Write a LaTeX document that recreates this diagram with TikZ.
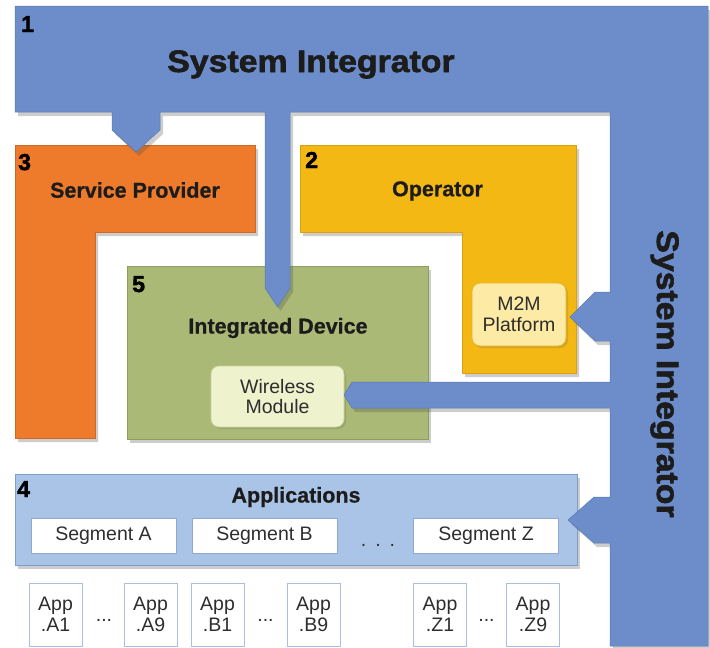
\documentclass[tikz,border=0pt]{standalone}
\usepackage{fontspec}
\setmainfont{Liberation Sans}
\newfontfamily\titlefont[FakeStretch=1.09,FakeBold=2]{Liberation Sans Bold}
\newfontfamily\numfont[FakeBold=2]{Liberation Sans Bold}
\newfontfamily\lblfont[FakeBold=0.7]{Liberation Sans Bold}
\usetikzlibrary{shadows}
\definecolor{sifill}{HTML}{6C8DC9}
\definecolor{siedge}{HTML}{5A79B0}
\definecolor{orfill}{HTML}{EE7B2C}
\definecolor{oredge}{HTML}{D06A22}
\definecolor{yefill}{HTML}{F3B814}
\definecolor{yeedge}{HTML}{D9A010}
\definecolor{grfill}{HTML}{AAB975}
\definecolor{gredge}{HTML}{8E9E5C}
\definecolor{wmfill}{HTML}{EEF2CD}
\definecolor{wmedge}{HTML}{CBD3A0}
\definecolor{m2fill}{HTML}{FDEAA4}
\definecolor{m2edge}{HTML}{E6B22A}
\definecolor{apfill}{HTML}{AAC4E8}
\definecolor{apedge}{HTML}{809CCB}
\definecolor{sgedge}{HTML}{90A8D2}
\definecolor{abedge}{HTML}{A9BFE2}
\definecolor{txtdark}{HTML}{1C1C1C}
\definecolor{txtreg}{HTML}{2E2E2E}
\begin{document}
\begin{tikzpicture}[x=1pt,y=-1pt,
  shadowed/.style={drop shadow={shadow xshift=3pt,shadow yshift=-4pt,opacity=0.28,fill=black!70}},
  softshadow/.style={drop shadow={shadow xshift=2pt,shadow yshift=-2pt,opacity=0.18,fill=black!70}},
  lbl/.style={font=\lblfont\fontsize{21.5}{24}\selectfont, text=txtdark, inner sep=0},
  numlbl/.style={font=\numfont\fontsize{23}{24}\selectfont, text=black, inner sep=0, anchor=base west},
  title/.style={font=\titlefont\fontsize{31}{34}\selectfont, text=txtdark, inner sep=0, anchor=base},
  reg/.style={font=\fontsize{19.5}{20.5}\selectfont, text=txtreg, align=center, inner sep=0},
  innerbox/.style={reg, rounded corners=8pt, line width=0.8pt, softshadow},
  segbox/.style={reg, fill=white, draw=sgedge, line width=0.8pt, minimum width=145pt, minimum height=35pt},
  appbox/.style={reg, fill=white, draw=abedge, line width=0.8pt, minimum width=53pt, minimum height=63pt},
]
\useasboundingbox (0,0) rectangle (710,648);

% Service Provider (orange L)
\path[shadowed, fill=orfill, draw=oredge, line width=0.5pt]
  (15,145) -- (255,145) -- (255,232) -- (95,232) -- (95,438) -- (15,438) -- cycle;
% Operator (yellow L)
\path[shadowed, fill=yefill, draw=yeedge, line width=0.5pt]
  (300,145) -- (576,145) -- (576,373) -- (462,373) -- (462,232) -- (300,232) -- cycle;
% Integrated Device (green)
\path[shadowed, fill=grfill, draw=gredge, line width=0.5pt] (127,266) rectangle (428,439);
% Applications (light blue)
\path[shadowed, fill=apfill, draw=apedge, line width=0.6pt] (15,474) rectangle (577,565);

% inner boxes
\node[innerbox, fill=wmfill, draw=wmedge, minimum width=133pt, minimum height=61pt] (wm) at (277.5,396.5) {Wireless\\Module};
\node[innerbox, fill=m2fill, draw=m2edge, minimum width=94pt, minimum height=63pt] (m2m) at (519,314.5) {M2M\\Platform};

% segments
\node[segbox] (segA) at (103.5,535.5) {Segment A};
\node[segbox] (segB) at (264.5,535.5) {Segment B};
\node[segbox] (segZ) at (486,535.5) {Segment Z};
\node[reg, anchor=base] (segdots) at (378,546) {.\hspace{9pt}.\hspace{9pt}.};

% application boxes
\node[appbox] (a1) at (55.5,614.5) {App\\.A1};
\node[appbox] (a9) at (150.5,614.5) {App\\.A9};
\node[appbox] (b1) at (217.5,614.5) {App\\.B1};
\node[appbox] (b9) at (313.5,614.5) {App\\.B9};
\node[appbox] (z1) at (440,614.5) {App\\.Z1};
\node[appbox] (z9) at (533,614.5) {App\\.Z9};
\node[reg, anchor=base] (adots) at (104,621) {...};
\node[reg, anchor=base] (bdots) at (265.5,621) {...};
\node[reg, anchor=base] (zdots) at (486.5,621) {...};

% System Integrator (blue) with its pointers
\path[shadowed, fill=sifill, draw=siedge, line width=0.5pt]
  (15,6) -- (708,6) -- (708,646) -- (610,646) -- (610,543) -- (594,543) -- (568,520)
  -- (594,497) -- (610,497) -- (610,408) -- (352,408) -- (344,395) -- (352,382)
  -- (610,382) -- (610,341) -- (595,341) -- (570,317) -- (595,292) -- (610,292)
  -- (610,112) -- (290,112) -- (290,288) -- (277.5,307) -- (265,288) -- (265,112)
  -- (160,112) -- (160,130) -- (136,152) -- (112,130) -- (112,112) -- (15,112) -- cycle;

% labels
\node[title] (sitop) at (311,72) {System Integrator};
\node[title, rotate=-90] (siright) at (657,374) {System Integrator};
\node[numlbl] (n1) at (21,32) {1};
\node[numlbl] (n3) at (18,170) {3};
\node[numlbl] (n2) at (305,168) {2};
\node[numlbl] (n5) at (132,292) {5};
\node[numlbl] (n4) at (17,497) {4};
\node[lbl] (sp) at (135,190) {Service Provider};
\node[lbl] (op) at (437.5,191) {Operator};
\node[lbl] (id) at (278,328) {Integrated Device};
\node[lbl] (apps) at (296,497) {Applications};
\end{tikzpicture}
\end{document}
